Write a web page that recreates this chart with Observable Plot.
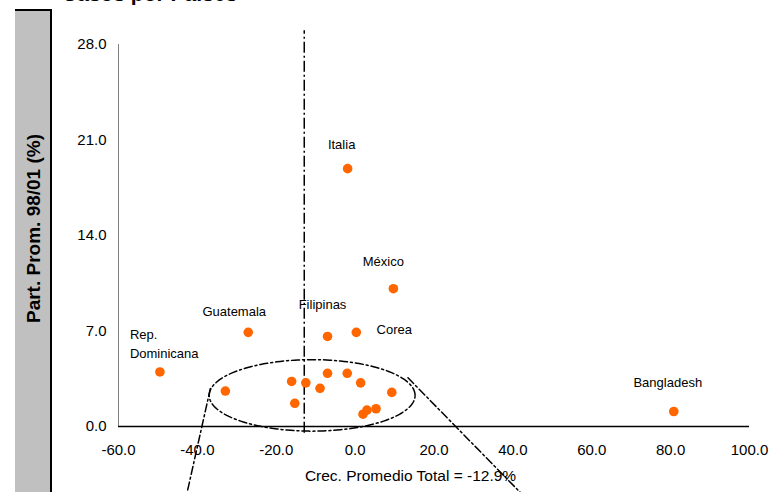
<!DOCTYPE html>
<html><head><meta charset="utf-8">
<script src="https://cdn.jsdelivr.net/npm/d3@7"></script>
<script src="https://cdn.jsdelivr.net/npm/@observablehq/plot@0.6"></script>
<style>
body{margin:0;background:#fff;font-family:"Liberation Sans",Arial,sans-serif;}
#wrap{position:relative;width:771px;height:492px;overflow:hidden;}
#panel{position:absolute;left:15px;top:8.5px;width:35px;height:500px;background:#c0c0c0;border-top:2px solid #000;border-right:2px solid #000;}
#title{position:absolute;left:62px;top:-17px;font-weight:bold;font-size:21px;line-height:21px;white-space:nowrap;color:#000;}
#chart{position:absolute;left:0;top:0;}
</style></head>
<body><div id="wrap"><div id="panel"></div><div id="title"></div><div id="chart"></div></div>
<script>
// ---- data ----
const countries = ["Italia", "México", "Filipinas", "Corea", "Guatemala", "Rep.\nDominicana", "Bangladesh"];
const growthLabeled = [-1.9, 9.7, -7.0, 0.3, -27.1, -49.5, 80.8];
const shareLabeled = [18.9, 10.1, 6.6, 6.9, 6.9, 4.0, 1.1];
const growthOthers = [-32.9, -16.1, -12.5, -7.0, -2.0, -8.9, 1.4, -15.3, 9.3, 5.3, 3.0, 2.0];
const shareOthers = [2.6, 3.3, 3.2, 3.9, 3.9, 2.8, 3.2, 1.7, 2.5, 1.3, 1.2, 0.9];
const xTicks = [-60, -40, -20, 0, 20, 40, 60, 80, 100];
const yTicks = [0, 7, 14, 21, 28];
const avgGrowth = -12.9;
const xLabel = "Crec. Promedio Total = -12.9%";
const yLabel = "Part. Prom. 98/01 (%)";
const titleText = "Casos por Países";
// annotation (data units): ellipse around the cluster and the two callout lines
const ellipseCx = -10.9, ellipseCy = 2.28, ellipseRx = 26.1, ellipseRy = 2.62;
const calloutLeft = [{x: -36.7, y: 2.79}, {x: -42.6, y: -4.84}];
const calloutRight = [{x: 13.4, y: 3.57}, {x: 41.9, y: -4.84}];

// ---- styling / label offsets (pixels) ----
const labelOffsets = {
  "Italia": [-6, -26, "middle"],
  "México": [-10, -29, "middle"],
  "Filipinas": [-5, -34, "middle"],
  "Corea": [38, -4, "middle"],
  "Guatemala": [-14, -22, "middle"],
  "Rep.\nDominicana": [-30, -29.5, "start"],
  "Bangladesh": [-6, -31, "middle"]
};

document.getElementById("title").textContent = titleText;

const labeled = countries.map((c, i) => ({name: c, x: growthLabeled[i], y: shareLabeled[i]}));
const others = growthOthers.map((g, i) => ({x: g, y: shareOthers[i]}));
const allPts = labeled.concat(others);

const ellipsePts = d3.range(0, 361, 2).map(a => ({
  x: ellipseCx + ellipseRx * Math.cos(a * Math.PI / 180),
  y: ellipseCy + ellipseRy * Math.sin(a * Math.PI / 180)
}));

const fmt = d => d.toFixed(1);

const plot = Plot.plot({
  width: 771,
  height: 492,
  marginLeft: 118,
  marginRight: 22,
  marginTop: 44,
  marginBottom: 66,
  style: {background: "transparent", fontFamily: "'Liberation Sans', Arial, sans-serif", fontSize: "15px", overflow: "visible", color: "#000"},
  x: {domain: [-60, 100]},
  y: {domain: [0, 28]},
  marks: [
    Plot.axisX(xTicks, {tickSize: 0, tickPadding: 18, tickFormat: fmt, label: null, fontSize: 15}),
    Plot.axisY(yTicks, {tickSize: 0, tickPadding: 12, tickFormat: fmt, label: null, fontSize: 15}),
    Plot.ruleX([-60], {y1: 0, y2: 28, stroke: "#7f7f7f", strokeWidth: 1}),
    Plot.ruleY([0], {x1: -60, x2: 100, stroke: "#000", strokeWidth: 1.3}),
    Plot.ruleX([avgGrowth], {y1: -0.5, y2: 29.0, stroke: "#000", strokeWidth: 1.5, strokeDasharray: "11,3,2,3"}),
    Plot.line(ellipsePts, {x: "x", y: "y", stroke: "#000", strokeWidth: 1.5, strokeDasharray: "8,3,2,3"}),
    Plot.line(calloutLeft, {x: "x", y: "y", stroke: "#000", strokeWidth: 1.5, strokeDasharray: "8,3,2,3"}),
    Plot.line(calloutRight, {x: "x", y: "y", stroke: "#000", strokeWidth: 1.5, strokeDasharray: "8,3,2,3"}),
    Plot.dot(allPts, {x: "x", y: "y", r: 4.8, fill: "#ff6600", stroke: "none"}),
    ...labeled.map(d => Plot.text([d], {
      x: "x", y: "y", text: "name",
      dx: labelOffsets[d.name][0], dy: labelOffsets[d.name][1],
      textAnchor: labelOffsets[d.name][2], lineHeight: 1.45,
      fontSize: 13, fill: "#000"
    })),
    Plot.text([xLabel], {text: d => d, frameAnchor: "bottom", dx: -23.5, dy: 54, fontSize: 15.5, fill: "#000"}),
    Plot.text([yLabel], {text: d => d, frameAnchor: "left", textAnchor: "middle", rotate: -90, dx: -85, dy: -7, fontSize: 19, fontWeight: "bold", fill: "#000"})
  ]
});
document.getElementById("chart").appendChild(plot);
</script>
</body></html>
